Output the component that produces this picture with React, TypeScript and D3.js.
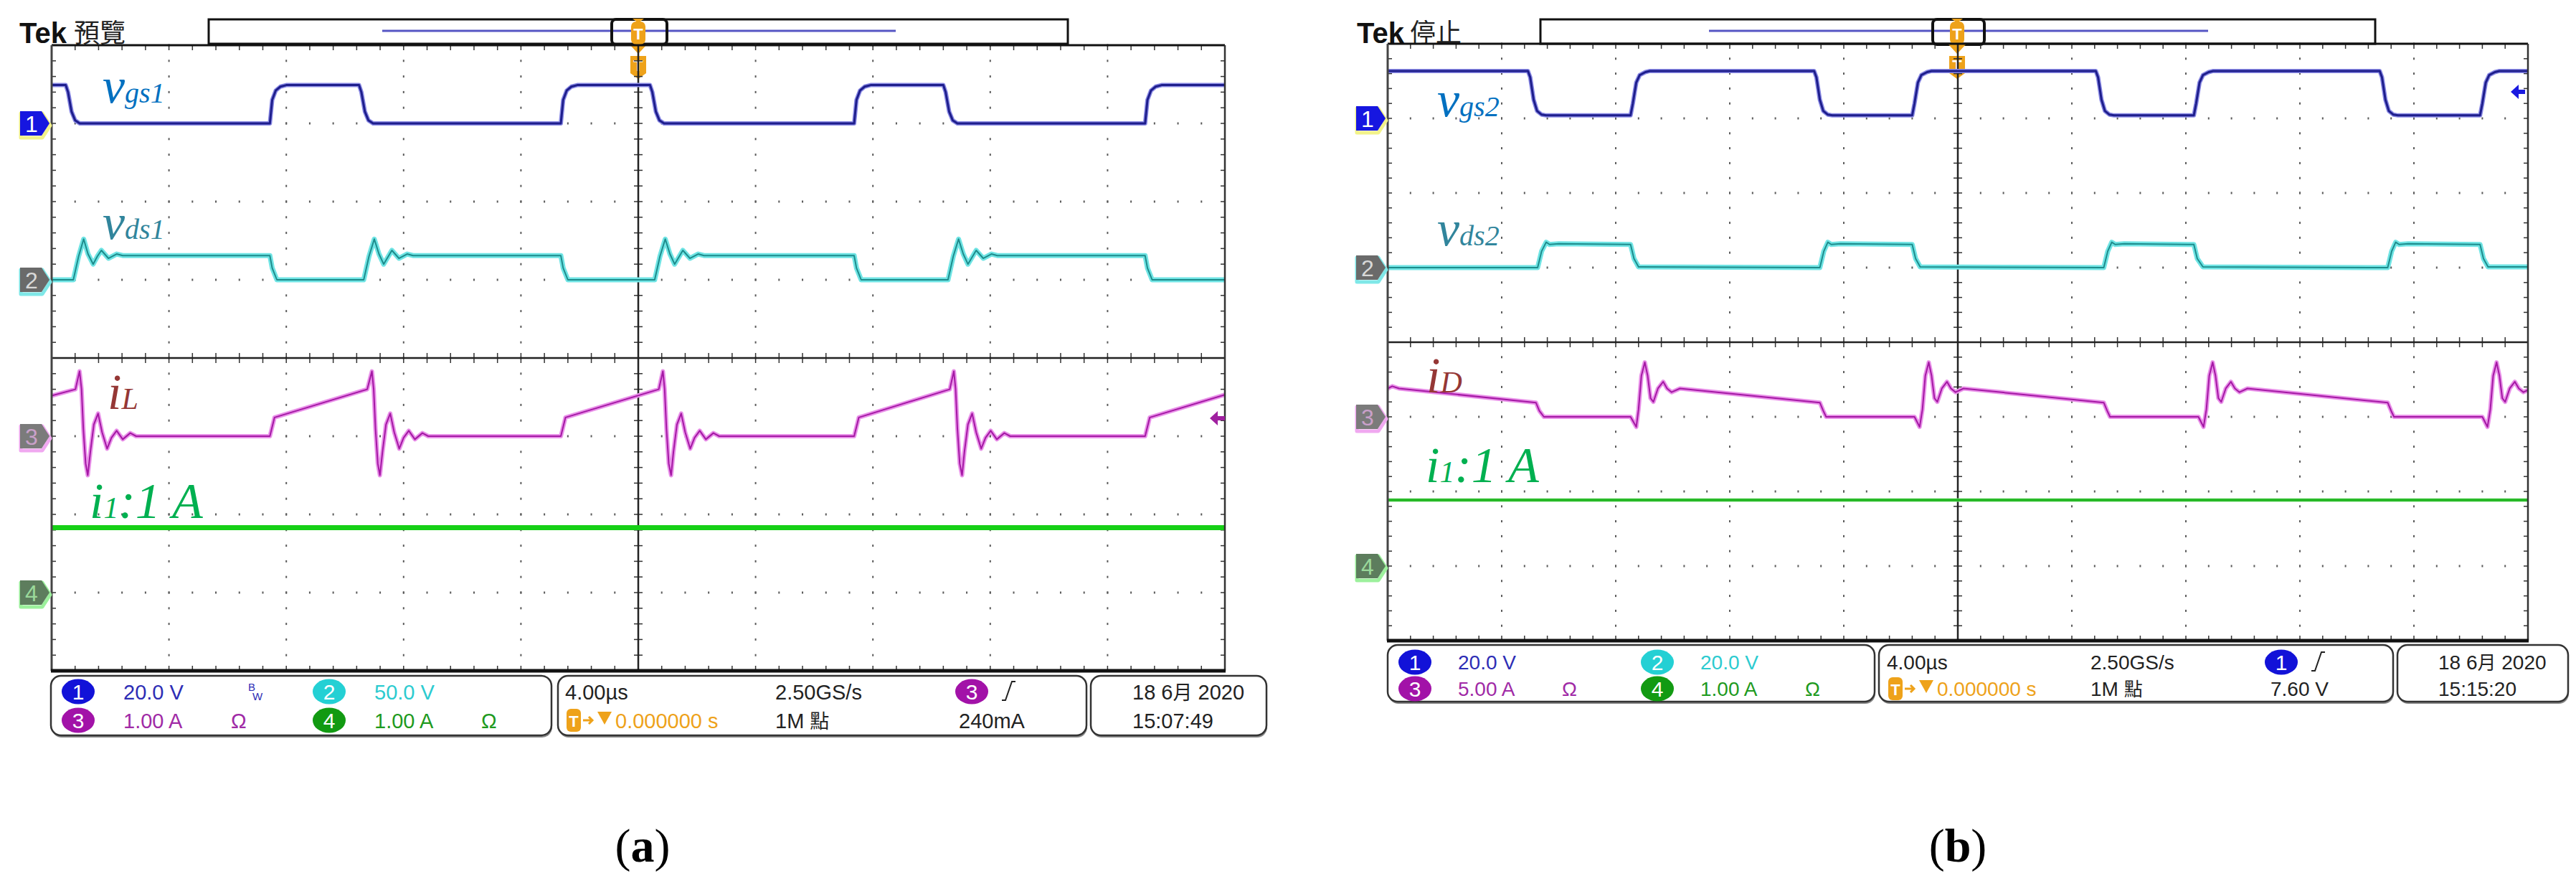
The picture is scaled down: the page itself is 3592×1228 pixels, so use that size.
import React from 'react';
import * as d3 from 'd3';

type Pt = [number, number];

/* ── traces: [time in divisions from left edge, level in divisions above the channel marker] ── */

// panel (a)
const VGS1: Pt[] = [
  [0, 0.49], [0.12, 0.49], [0.14, 0.4], [0.17, 0.15], [0.2, 0.04], [0.24, 0],
  [1.86, 0], [1.88, 0.3], [1.91, 0.42], [1.95, 0.47], [2.0, 0.49],
  [2.62, 0.49], [2.64, 0.4], [2.67, 0.15], [2.7, 0.04], [2.74, 0],
  [4.34, 0], [4.36, 0.3], [4.39, 0.42], [4.43, 0.47], [4.48, 0.49],
  [5.1, 0.49], [5.12, 0.4], [5.15, 0.15], [5.18, 0.04], [5.22, 0],
  [6.84, 0], [6.86, 0.3], [6.89, 0.42], [6.93, 0.47], [6.98, 0.49],
  [7.6, 0.49], [7.62, 0.4], [7.65, 0.15], [7.68, 0.04], [7.72, 0],
  [9.32, 0], [9.34, 0.3], [9.37, 0.42], [9.41, 0.47], [9.46, 0.49], [10, 0.49],
];

const VDS1: Pt[] = [
  [0, 0], [0.185, 0], [0.23, 0.3], [0.273, 0.52], [0.31, 0.33], [0.354, 0.2], [0.39, 0.3], [0.424, 0.376],
  [0.484, 0.275], [0.554, 0.33], [0.606, 0.31], [1.86, 0.31], [1.88, 0.15], [1.92, 0],
  [2.66, 0], [2.705, 0.3], [2.75, 0.52], [2.79, 0.33], [2.83, 0.2], [2.87, 0.3], [2.9, 0.376],
  [2.96, 0.275], [3.03, 0.33], [3.08, 0.31], [4.34, 0.31], [4.36, 0.15], [4.4, 0],
  [5.14, 0], [5.185, 0.3], [5.23, 0.52], [5.27, 0.33], [5.31, 0.2], [5.35, 0.3], [5.38, 0.376],
  [5.44, 0.275], [5.51, 0.33], [5.56, 0.31], [6.84, 0.31], [6.86, 0.15], [6.9, 0],
  [7.64, 0], [7.685, 0.3], [7.73, 0.52], [7.77, 0.33], [7.81, 0.2], [7.85, 0.3], [7.88, 0.376],
  [7.94, 0.275], [8.01, 0.33], [8.06, 0.31], [9.32, 0.31], [9.34, 0.15], [9.38, 0], [10, 0],
];

const IL: Pt[] = [
  [0, 0.517], [0.203, 0.6], [0.238, 0.83], [0.255, 0.6], [0.27, 0.1], [0.29, -0.35], [0.308, -0.5],
  [0.33, -0.2], [0.36, 0.15], [0.396, 0.29], [0.43, 0.05], [0.473, -0.16], [0.51, -0.02], [0.554, 0.07],
  [0.606, -0.04], [0.67, 0.04], [0.72, 0], [1.86, 0], [1.9, 0.24], [2.69, 0.6],
  [2.73, 0.83], [2.745, 0.6], [2.76, 0.1], [2.78, -0.35], [2.798, -0.5], [2.82, -0.2], [2.85, 0.15],
  [2.886, 0.29], [2.92, 0.05], [2.963, -0.16], [3.0, -0.02], [3.044, 0.07], [3.096, -0.04], [3.16, 0.04],
  [3.21, 0], [4.34, 0], [4.38, 0.24], [5.175, 0.6],
  [5.21, 0.83], [5.225, 0.6], [5.24, 0.1], [5.26, -0.35], [5.28, -0.5], [5.3, -0.2], [5.33, 0.15],
  [5.366, 0.29], [5.4, 0.05], [5.443, -0.16], [5.48, -0.02], [5.524, 0.07], [5.576, -0.04], [5.64, 0.04],
  [5.69, 0], [6.84, 0], [6.88, 0.24], [7.655, 0.6],
  [7.69, 0.83], [7.705, 0.6], [7.72, 0.1], [7.74, -0.35], [7.76, -0.5], [7.78, -0.2], [7.81, 0.15],
  [7.846, 0.29], [7.88, 0.05], [7.923, -0.16], [7.96, -0.02], [8.004, 0.07], [8.056, -0.04], [8.12, 0.04],
  [8.17, 0], [9.32, 0], [9.36, 0.24], [10, 0.53],
];

const I1A: Pt[] = [[0, 0.83], [10, 0.83]];

// panel (b)
const VGS2: Pt[] = [
  [0, 0.635], [1.23, 0.635], [1.25, 0.55], [1.28, 0.25], [1.31, 0.1], [1.35, 0.05], [1.39, 0.04],
  [2.13, 0.04], [2.15, 0.2], [2.18, 0.48], [2.21, 0.58], [2.26, 0.62], [2.3, 0.635],
  [3.74, 0.635], [3.76, 0.55], [3.79, 0.25], [3.82, 0.1], [3.86, 0.05], [3.9, 0.04],
  [4.6, 0.04], [4.62, 0.2], [4.65, 0.48], [4.68, 0.58], [4.73, 0.62], [4.77, 0.635],
  [6.21, 0.635], [6.23, 0.55], [6.26, 0.25], [6.29, 0.1], [6.33, 0.05], [6.37, 0.04],
  [7.07, 0.04], [7.09, 0.2], [7.12, 0.48], [7.15, 0.58], [7.2, 0.62], [7.24, 0.635],
  [8.7, 0.635], [8.72, 0.55], [8.75, 0.25], [8.78, 0.1], [8.82, 0.05], [8.86, 0.04],
  [9.58, 0.04], [9.6, 0.2], [9.63, 0.48], [9.66, 0.58], [9.71, 0.62], [9.75, 0.635], [10, 0.635],
];

const VDS2: Pt[] = [
  [0, 0], [1.315, 0], [1.35, 0.22], [1.39, 0.34], [1.42, 0.31], [1.5, 0.32], [2.13, 0.31], [2.16, 0.12], [2.2, 0.01],
  [3.79, 0], [3.825, 0.22], [3.86, 0.34], [3.89, 0.31], [3.97, 0.32], [4.6, 0.31], [4.63, 0.12], [4.67, 0.01],
  [6.28, 0], [6.315, 0.22], [6.35, 0.34], [6.38, 0.31], [6.46, 0.32], [7.07, 0.31], [7.1, 0.12], [7.15, 0.01],
  [8.77, 0], [8.805, 0.22], [8.84, 0.34], [8.87, 0.31], [8.95, 0.32], [9.58, 0.31], [9.61, 0.12], [9.65, 0.01],
  [10, 0.01],
];

const ID: Pt[] = [
  [0, 0.38], [0.04, 0.41], [0.1, 0.38], [1.3, 0.19], [1.33, 0.08], [1.37, 0],
  [2.13, 0], [2.18, -0.135], [2.2, 0.1], [2.225, 0.55], [2.255, 0.73], [2.28, 0.55], [2.305, 0.25], [2.33, 0.2],
  [2.37, 0.38], [2.416, 0.47], [2.45, 0.38], [2.49, 0.33], [2.563, 0.38], [3.79, 0.19], [3.82, 0.08], [3.845, 0],
  [4.62, 0], [4.665, -0.135], [4.69, 0.1], [4.715, 0.55], [4.745, 0.73], [4.77, 0.55], [4.795, 0.25], [4.82, 0.2],
  [4.86, 0.38], [4.905, 0.47], [4.94, 0.38], [4.98, 0.33], [5.05, 0.38], [6.28, 0.19], [6.31, 0.08], [6.335, 0],
  [7.11, 0], [7.155, -0.135], [7.18, 0.1], [7.205, 0.55], [7.235, 0.73], [7.26, 0.55], [7.285, 0.25], [7.31, 0.2],
  [7.35, 0.38], [7.395, 0.47], [7.43, 0.38], [7.47, 0.33], [7.54, 0.38], [8.77, 0.19], [8.8, 0.08], [8.825, 0],
  [9.6, 0], [9.645, -0.135], [9.67, 0.1], [9.695, 0.55], [9.725, 0.73], [9.75, 0.55], [9.775, 0.25], [9.8, 0.2],
  [9.84, 0.38], [9.885, 0.47], [9.92, 0.38], [9.96, 0.33], [10, 0.36],
];

const I1B: Pt[] = [[0, 0.885], [10, 0.885]];

/* ── readout texts ── */
const SCALE_A = ['20.0 V', '50.0 V', '1.00 A', '1.00 A'];
const HORIZ_A = ['4.00µs', '2.50GS/s', '0.000000 s', '1M 點', '240mA'];
const DATE_A = ['18 6月 2020', '15:07:49'];
const SCALE_B = ['20.0 V', '20.0 V', '5.00 A', '1.00 A'];
const HORIZ_B = ['4.00µs', '2.50GS/s', '0.000000 s', '1M 點', '7.60 V'];
const DATE_B = ['18 6月 2020', '15:15:20'];
const TRIG_SRC = ['3', '1'];
const MODE = ['預覽', '停止'];
const CAPTIONS = ['a', 'b'];

const NARROW = "'Liberation Sans Narrow','Arial Narrow','Liberation Sans',Arial,sans-serif";
const SANS = "'Liberation Sans',Arial,sans-serif";
const SERIF = "'Liberation Serif','Times New Roman',serif";
const CJK = "'Noto Sans CJK TC','Noto Sans CJK SC',sans-serif";

const CH = [
  { lvl: 3, tag: '#1616e0', glow: '#f2f28a', num: '#ffffff', badge: '#1212d8', text: '#2d2db5' },
  { lvl: 1, tag: '#6a6a6a', glow: '#7fe8e8', num: '#d8d8d8', badge: '#24d0d4', text: '#2ccbd0' },
  { lvl: -1, tag: '#7b7b7b', glow: '#f0a8f0', num: '#c9a0c9', badge: '#a212a8', text: '#a02aa6' },
  { lvl: -3, tag: '#5d7d5d', glow: '#9cf09c', num: '#9ad89a', badge: '#129a12', text: '#1e9a1e' },
];

const ORANGE = '#eea21a';

function Trace({ pts, lvl, xs, ys, glow, core, gw, cw }: any) {
  const line = d3.line<Pt>().x(d => xs(d[0])).y(d => ys(d[1] + lvl));
  const d = line(pts) || '';
  return (
    <g>
      {glow && <path d={d} fill="none" stroke={glow} strokeWidth={gw} strokeLinejoin="round" strokeLinecap="round" />}
      <path d={d} fill="none" stroke={core} strokeWidth={cw} strokeLinejoin="round" />
    </g>
  );
}

function Tag({ x, y, n, c }: any) {
  const p = `M${x},${y - 17} H${x + 30} L${x + 41},${y} L${x + 30},${y + 17} H${x} Z`;
  return (
    <g>
      <path d={p} transform="translate(1,3)" fill="none" stroke={c.glow} strokeWidth={5} strokeLinejoin="round" />
      <path d={p} fill={c.tag} />
      <text x={x + 16} y={y + 12} fontFamily={NARROW} fontSize={32} fill={c.num} textAnchor="middle">{n}</text>
    </g>
  );
}

function TTag({ x, y }: any) {
  return (
    <g>
      <path d={`M${x - 11},${y} h22 v24 l-11,8 l-11,-8 Z`} fill={ORANGE} />
      <text x={x} y={y + 21} fontFamily={SANS} fontWeight="bold" fontSize={22} fill="#fff" textAnchor="middle">T</text>
    </g>
  );
}

function Screen({ x0, x1, y0, y1, id, children, traces }: any) {
  const xs = d3.scaleLinear().domain([0, 10]).range([x0, x1]);
  const ys = d3.scaleLinear().domain([-4, 4]).range([y1, y0]);
  const minX = d3.range(51).map(i => i / 5);
  const minY = d3.range(41).map(i => i / 5 - 4);
  const majX = d3.range(1, 10).filter(i => i !== 5);
  const majY = d3.range(-3, 4).filter(i => i !== 0);
  const dot = '#5a5a5a';
  return (
    <g>
      {majX.map(i => minY.map(v => (
        <rect key={`vx${i}_${v}`} x={xs(i) - 1} y={ys(v) - 1.5} width={2} height={3} fill={dot} />
      )))}
      {majY.map(j => minX.map(u => (
        <rect key={`hy${j}_${u}`} x={xs(u) - 1} y={ys(j) - 1.5} width={2} height={3} fill={dot} />
      )))}
      {/* border ticks */}
      {minX.map(u => (
        <g key={`bt${u}`} stroke="#333" strokeWidth={1.5}>
          <line x1={xs(u)} x2={xs(u)} y1={y0} y2={y0 + 7} />
          <line x1={xs(u)} x2={xs(u)} y1={y1 - 7} y2={y1} />
          <line x1={xs(u)} x2={xs(u)} y1={ys(0) - 7} y2={ys(0) + 7} />
        </g>
      ))}
      {minY.map(v => (
        <g key={`bl${v}`} stroke="#333" strokeWidth={1.5}>
          <line x1={x0} x2={x0 + 6} y1={ys(v)} y2={ys(v)} />
          <line x1={x1 - 6} x2={x1} y1={ys(v)} y2={ys(v)} />
          <line x1={xs(5) - 6} x2={xs(5) + 6} y1={ys(v)} y2={ys(v)} />
        </g>
      ))}
      <line x1={x0} x2={x1} y1={ys(0)} y2={ys(0)} stroke="#222" strokeWidth={2.5} />
      <line x1={xs(5)} x2={xs(5)} y1={y0} y2={y1} stroke="#222" strokeWidth={2.5} />
      <clipPath id={id}><rect x={x0} y={y0} width={x1 - x0} height={y1 - y0} /></clipPath>
      <g clipPath={`url(#${id})`}>
        {traces.map((t: any, i: number) => <Trace key={i} {...t} xs={xs} ys={ys} />)}
      </g>
      <line x1={x0} x2={x1} y1={y0} y2={y0} stroke="#111" strokeWidth={3} />
      <line x1={x0} x2={x0} y1={y0} y2={y1} stroke="#444" strokeWidth={3} />
      <line x1={x1} x2={x1} y1={y0} y2={y1} stroke="#333" strokeWidth={2.5} />
      <line x1={x0 - 1} x2={x1 + 1} y1={y1} y2={y1} stroke="#111" strokeWidth={5} />
      {CH.map((c, i) => <Tag key={i} x={x0 - 44} y={ys(c.lvl)} n={i + 1} c={c} />)}
      {children}
    </g>
  );
}

function TopBar({ bx0, bx1, lx0, lx1, wx0, wx1, tx }: any) {
  return (
    <g>
      <rect x={bx0} y={27} width={bx1 - bx0} height={34} fill="#fff" stroke="#111" strokeWidth={3} />
      <line x1={lx0} x2={lx1} y1={43} y2={43} stroke="#5656c4" strokeWidth={3} />
      <rect x={wx0} y={27} width={wx1 - wx0} height={35} rx={6} fill="none" stroke="#111" strokeWidth={4} />
      <path d={`M${tx - 8},26 h16 l-8,6 Z`} fill={ORANGE} />
      <rect x={tx - 10} y={30} width={20} height={32} rx={7} fill={ORANGE} />
      <text x={tx} y={55} fontFamily={SANS} fontWeight="bold" fontSize={22} fill="#fff" textAnchor="middle">T</text>
      <path d={`M${tx - 12},62 h24 l-12,13 Z`} fill={ORANGE} />
      <TTag x={tx} y={78} />
    </g>
  );
}

function Badge({ cx, cy, n, fill }: any) {
  return (
    <g>
      <ellipse cx={cx} cy={cy} rx={23} ry={17.5} fill={fill} />
      <text x={cx} y={cy + 11} fontFamily={NARROW} fontSize={30} fill="#fff" textAnchor="middle">{n}</text>
    </g>
  );
}

function Slope({ x, y }: any) {
  return <path d={`M${x},${y + 12} h5 l9,-26 h5`} fill="none" stroke="#222" strokeWidth={2} />;
}

function Readout({ L, scale, horiz, date, trig }: any) {
  const fs = L.fs;
  const box = (a: number[], k: number) => (
    <g key={k}>
      <rect x={a[0] + 1} y={L.top + 3} width={a[1] - a[0]} height={L.bot - L.top} rx={14} fill="#888" />
      <rect x={a[0]} y={L.top} width={a[1] - a[0]} height={L.bot - L.top} rx={14} fill="#fff" stroke="#333" strokeWidth={2.5} />
    </g>
  );
  const t = (x: number, y: number, s: string, fill: string, k: string) => (
    <text key={k} x={x} y={y} fontFamily={NARROW} fontSize={fs} fill={fill}>{s}</text>
  );
  const tc = trig === '3' ? CH[2] : CH[0];
  return (
    <g>
      {L.boxes.map(box)}
      <Badge cx={L.bx[0]} cy={L.cy[0]} n="1" fill={CH[0].badge} />
      <Badge cx={L.bx[1]} cy={L.cy[0]} n="2" fill={CH[1].badge} />
      <Badge cx={L.bx[0]} cy={L.cy[1]} n="3" fill={CH[2].badge} />
      <Badge cx={L.bx[1]} cy={L.cy[1]} n="4" fill={CH[3].badge} />
      {t(L.tx[0], L.by[0], scale[0], CH[0].text, 's0')}
      {t(L.tx[1], L.by[0], scale[1], CH[1].text, 's1')}
      {t(L.tx[0], L.by[1], scale[2], CH[2].text, 's2')}
      {t(L.tx[1], L.by[1], scale[3], CH[3].text, 's3')}
      {t(L.om[0], L.by[1], 'Ω', CH[2].text, 'o1')}
      {t(L.om[1], L.by[1], 'Ω', CH[3].text, 'o2')}
      {L.bw && (
        <g fill={CH[0].text} fontFamily={SANS} fontSize={15}>
          <text x={L.bw} y={L.by[0] - 12}>B</text>
          <text x={L.bw + 6} y={L.by[0] + 1}>W</text>
        </g>
      )}
      {t(L.h[0], L.by[0], horiz[0], '#222', 'h0')}
      {t(L.h[1], L.by[0], horiz[1], '#222', 'h1')}
      <Badge cx={L.tb} cy={L.cy[0]} n={trig} fill={tc.badge} />
      <Slope x={L.tb + 42} y={L.cy[0]} />
      <rect x={L.h[0] + 2} y={L.cy[1] - 16} width={20} height={32} rx={6} fill={ORANGE} />
      <text x={L.h[0] + 12} y={L.cy[1] + 9} fontFamily={SANS} fontWeight="bold" fontSize={22} fill="#fff" textAnchor="middle">T</text>
      <path d={`M${L.h[0] + 25},${L.cy[1]} h12 M${L.h[0] + 33},${L.cy[1] - 5} l5,5 l-5,5`} stroke={ORANGE} strokeWidth={3} fill="none" />
      <path d={`M${L.h[0] + 45},${L.cy[1] - 12} h20 l-10,18 Z`} fill={ORANGE} />
      {t(L.h[0] + 70, L.by[1], horiz[2], ORANGE, 'h2')}
      <text x={L.h[1]} y={L.by[1]} fontFamily={NARROW} fontSize={fs} fill="#222">
        {horiz[3].split(' ')[0]} <tspan fontFamily={CJK} fontSize={fs - 2}>{horiz[3].split(' ')[1]}</tspan>
      </text>
      {t(L.tv, L.by[1], horiz[4], '#222', 'h4')}
      <text x={L.dx} y={L.by[0]} fontFamily={NARROW} fontSize={fs} fill="#222">
        18 6<tspan fontFamily={CJK} fontSize={fs - 2}>月</tspan> 2020
      </text>
      {t(L.dx, L.by[1], date[1], '#222', 'd1')}
    </g>
  );
}

function Label({ x, y, main, sub, rest, color }: any) {
  return (
    <text x={x} y={y} fontFamily={SERIF} fontStyle="italic" fill={color}>
      <tspan fontSize={70}>{main}</tspan>
      <tspan fontSize={sub.length > 1 ? 40 : 42}>{sub}</tspan>
      {rest && <tspan fontSize={70}>{rest}</tspan>}
    </text>
  );
}

const LAYOUT_A = {
  top: 942, bot: 1025, fs: 29, cy: [964, 1004], by: [975, 1015],
  boxes: [[71, 769], [778, 1515], [1521, 1766]],
  bx: [109, 459], tx: [172, 522], om: [322, 671], bw: 346,
  h: [788, 1081], tb: 1355, tv: 1337, dx: 1579,
};
const LAYOUT_B = {
  top: 899, bot: 978, fs: 28, cy: [923, 960], by: [933, 970],
  boxes: [[1935, 2614], [2620, 3337], [3343, 3581]],
  bx: [1973, 2311], tx: [2033, 2371], om: [2178, 2517], bw: 0,
  h: [2631, 2915], tb: 3181, tv: 3166, dx: 3400,
};

export default function App() {
  const glow1 = '#8a8ae4', core1 = '#1e1e8c';
  const glow2 = '#6fe4e4', core2 = '#1d8c8c';
  const glow3 = '#e991e9', core3 = '#a418a4';
  const tracesA = [
    { pts: I1A, lvl: CH[3].lvl, glow: null, core: '#16d016', gw: 0, cw: 7 },
    { pts: IL, lvl: CH[2].lvl, glow: glow3, core: core3, gw: 6, cw: 2 },
    { pts: VDS1, lvl: CH[1].lvl, glow: glow2, core: core2, gw: 7, cw: 2 },
    { pts: VGS1, lvl: CH[0].lvl, glow: glow1, core: core1, gw: 6, cw: 3 },
  ];
  const tracesB = [
    { pts: I1B, lvl: CH[3].lvl, glow: '#8fe88f', core: '#1fb41f', gw: 5, cw: 3.5 },
    { pts: ID, lvl: CH[2].lvl, glow: glow3, core: core3, gw: 6, cw: 2 },
    { pts: VDS2, lvl: CH[1].lvl, glow: glow2, core: core2, gw: 7, cw: 2 },
    { pts: VGS2, lvl: CH[0].lvl, glow: glow1, core: core1, gw: 6, cw: 3 },
  ];
  return (
    <svg width={3592} height={1228} viewBox="0 0 3592 1228"
      style={{ position: 'absolute', left: 0, top: 0, background: '#fff' }}>
      <rect width={3592} height={1228} fill="#fff" />

      {/* ── panel (a) ── */}
      <text x={27} y={60} fontFamily={SANS} fontWeight="bold" fontSize={40} fill="#111">Tek</text>
      <text x={103} y={59} fontFamily={CJK} fontSize={36} fill="#222">{MODE[0]}</text>
      <TopBar bx0={291} bx1={1489} lx0={533} lx1={1249} wx0={853} wx1={930} tx={890} />
      <Screen x0={72} x1={1708} y0={63} y1={935} id="clipA" traces={tracesA}>
        <path d="M1687,583 l11,-10 v7 h10 v6 h-10 v7 Z" fill="#a020a0" />
        <Label x={143} y={143} main="v" sub="gs1" color="#0070C0" />
        <Label x={143} y={333} main="v" sub="ds1" color="#31859C" />
        <Label x={150} y={570} main="i" sub="L" color="#953735" />
        <Label x={125} y={722} main="i" sub="1" rest=":1 A" color="#00B050" />
      </Screen>
      <Readout L={LAYOUT_A} scale={SCALE_A} horiz={HORIZ_A} date={DATE_A} trig={TRIG_SRC[0]} />
      <text x={896} y={1201} fontFamily={SERIF} fontSize={66} textAnchor="middle" fill="#000">
        (<tspan fontWeight="bold">{CAPTIONS[0]}</tspan>)
      </text>

      {/* ── panel (b) ── */}
      <text x={1892} y={60} fontFamily={SANS} fontWeight="bold" fontSize={40} fill="#111">Tek</text>
      <text x={1966} y={59} fontFamily={CJK} fontSize={36} fill="#222">{MODE[1]}</text>
      <TopBar bx0={2148} bx1={3312} lx0={2383} lx1={3079} wx0={2695} wx1={2767} tx={2729} />
      <Screen x0={1935} x1={3525} y0={61} y1={893} id="clipB" traces={tracesB}>
        <path d="M3501,128 l11,-10 v7 h9 v6 h-9 v7 Z" fill="#1a1ae0" />
        <Label x={2004} y={162} main="v" sub="gs2" color="#0070C0" />
        <Label x={2004} y={342} main="v" sub="ds2" color="#31859C" />
        <Label x={1989} y={547} main="i" sub="D" color="#953735" />
        <Label x={1988} y={672} main="i" sub="1" rest=":1 A" color="#00B050" />
      </Screen>
      <Readout L={LAYOUT_B} scale={SCALE_B} horiz={HORIZ_B} date={DATE_B} trig={TRIG_SRC[1]} />
      <text x={2730} y={1201} fontFamily={SERIF} fontSize={66} textAnchor="middle" fill="#000">
        (<tspan fontWeight="bold">{CAPTIONS[1]}</tspan>)
      </text>
    </svg>
  );
}
